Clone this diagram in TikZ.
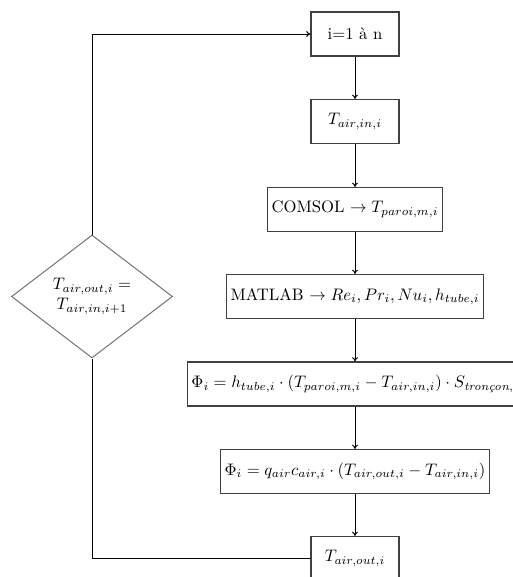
\documentclass[tikz,border=0pt]{standalone}
\usepackage{amsmath}
\usetikzlibrary{shapes.geometric,arrows.meta}
\newcommand{\pxu}{0.6pt}
\tikzset{
  stepbox/.style={draw=black!75, line width=0.7pt, rectangle, minimum height={44*\pxu}, inner sep=2.5pt, font=\normalsize},
  narrowbox/.style={stepbox, minimum width={88*\pxu}},
  decision/.style={draw=black!55, line width=0.6pt, diamond, minimum width={161*\pxu}, minimum height={123*\pxu}, inner sep=0pt, align=center},
  flow/.style={line width=0.6pt, -{To[length=2.5pt,width=3.5pt]}},
  plain/.style={line width=0.6pt}
}
\begin{document}
\begin{tikzpicture}[x=\pxu, y=-\pxu]
\useasboundingbox (0,0) rectangle (513,577);
\node[narrowbox] (b1) at (355,34) {i=1 à n};
\node[narrowbox] (b2) at (355,121.5) {$T_{air,in,i}$};
\node[stepbox] (b3) at (355,209.5) {COMSOL $\rightarrow T_{paroi,m,i}$};
\node[stepbox] (b4) at (355,296.5) {MATLAB $\rightarrow Re_i, Pr_i, Nu_i, h_{tube,i}$};
\node[stepbox] (b5) at (355,384) {$\Phi_i = h_{tube,i}\cdot(T_{paroi,m,i}-T_{air,in,i})\cdot S_{\textit{tronçon},i}$};
\node[stepbox] (b6) at (355,471.5) {$\Phi_i = q_{air}c_{air,i}\cdot(T_{air,out,i}-T_{air,in,i})$};
\node[narrowbox] (b7) at (355,558.5) {$T_{air,out,i}$};
\node[decision] (d) at (92,296.5) {$T_{air,out,i} =$\\$T_{air,in,i+1}$};
\draw[flow] (b1) -- (b2);
\draw[flow] (b2) -- (b3);
\draw[flow] (b3) -- (b4);
\draw[flow] (b4) -- (b5);
\draw[flow] (b5) -- (b6);
\draw[flow] (b6) -- (b7);
\draw[plain] (b7.west) -| (d.south);
\draw[flow] (d.north) |- (b1.west);
\end{tikzpicture}
\end{document}
